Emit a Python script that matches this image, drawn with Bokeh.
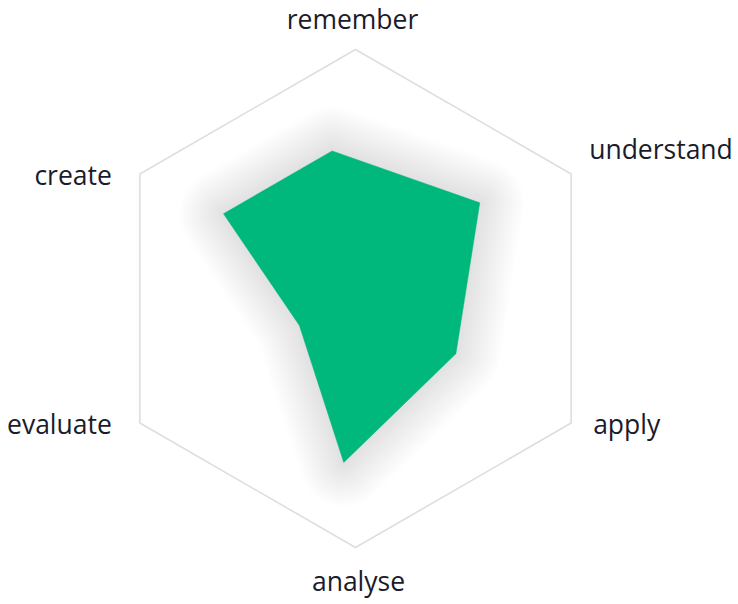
import numpy as np
from bokeh.plotting import figure
from bokeh.models import Range1d, ColumnDataSource
from bokeh.core.properties import value
from bokeh.embed import file_html
from bokeh.resources import INLINE

# ---- data ----
categories = ["remember", "understand", "apply", "analyse", "evaluate", "create"]
scores = [60, 63, 46, 66, 25, 63]            # 0..100 scale
angle_shift = [9.0, 7.6, 1.2, -4.1, -4.3, -2.7]  # degrees, as drawn in the reference
max_score = 100

# ---- layout ----
W, H = 738, 604
CX, CY = 355, 298      # centre in pixels
R = 249                # pixel radius of the outer hexagon

p = figure(width=W, height=H, output_backend="svg", toolbar_location=None,
           x_range=Range1d(-CX, W - CX), y_range=Range1d(-(H - CY), CY),
           min_border=0, outline_line_color=None, background_fill_color="white")
p.axis.visible = False
p.grid.visible = False

base_angles = np.deg2rad([90, 30, -30, -90, -150, 150])

# outer hexagon
hx = list(R * np.cos(base_angles))
hy = list(R * np.sin(base_angles))
p.patch(hx, hy, fill_color=None, line_color="#dedede", line_width=1.6)

# data polygon
ang = base_angles + np.deg2rad(angle_shift)
rad = np.array(scores) / max_score * R
px = list(rad * np.cos(ang))
py = list(rad * np.sin(ang))

# soft shadow (layered strokes)
for w in range(90, 1, -3):
    p.patch(px, py, fill_color=None, line_color="black", line_alpha=0.0038,
            line_width=w, line_join="round")

p.patch(px, py, fill_color="#00b77c", line_color="#00b77c", line_width=0.5)

# labels
lx = list(R * np.cos(base_angles))
ly = list(R * np.sin(base_angles))
x_off = [-3, 18, 22, 3, -28, -28]
y_off = [-31, -25, 1, 33, 1, 1]
align = ["center", "left", "left", "center", "right", "right"]
src = ColumnDataSource(dict(x=lx, y=ly, t=categories, xo=x_off, yo=y_off, a=align))
p.text(x="x", y="y", text="t", x_offset="xo", y_offset="yo", text_align="a",
       text_baseline="alphabetic", source=src,
       text_font=value("Open Sans"), text_font_size="26.5px", text_color="#1b1b2b")

open("out.html", "w").write(file_html(p, INLINE))
